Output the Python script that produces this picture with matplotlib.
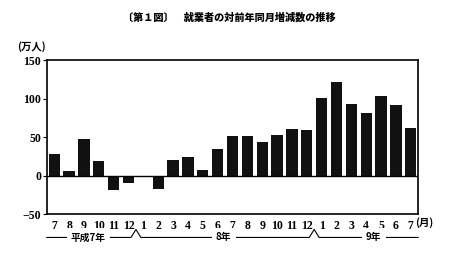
import matplotlib.pyplot as plt
import matplotlib.transforms as mtransforms
import numpy as np

plt.rcParams['font.family'] = ['Liberation Serif', 'Noto Sans CJK JP']

# 平成7年7月 ～ 平成9年7月
months = ['7', '8', '9', '10', '11', '12', '1', '2', '3', '4', '5', '6',
          '7', '8', '9', '10', '11', '12', '1', '2', '3', '4', '5', '6', '7']
values = [28, 6, 48, 19, -19, -10, -2, -17, 20, 24, 7, 34,
          51, 51, 43, 53, 60, 59, 101, 121, 93, 81, 103, 91, 62]
years = ['平成7年', '8年', '9年']
year_pos = [2.3, 11.4, 21.5]
breaks = [5.5, 17.5]

fig = plt.figure(figsize=(4.59, 2.73), dpi=100)
ax = fig.add_axes([0.102, 0.216, 0.809, 0.564])

x = np.arange(len(values))
ax.bar(x, values, width=0.76, color='#111111')
ax.axhline(0, color='black', lw=1.0)

ax.set_xlim(-0.5, len(values) - 0.5)
ax.set_ylim(-50, 150)
ax.set_yticks([-50, 0, 50, 100, 150])
ax.set_yticklabels(['−50', '0', '50', '100', '150'])
ax.set_xticks(x)
ax.set_xticklabels(months)
ax.tick_params(axis='x', length=0, pad=4, labelsize=8.5)
ax.tick_params(axis='y', length=3, width=0.8, pad=1, labelsize=8.5)
for lab in ax.get_xticklabels() + ax.get_yticklabels():
    lab.set_fontweight('bold')
for s in ax.spines.values():
    s.set_linewidth(1.2)

fig.text(0.5, 0.935, '〔第１図〕　就業者の対前年同月増減数の推移', ha='center', va='center',
         fontsize=7.3, fontweight='heavy', family=['Noto Sans CJK JP'])
fig.text(0.068, 0.828, '(万人)', ha='center', va='center', fontsize=7.5,
         fontweight='bold', family=['Noto Sans CJK JP'])
tr = mtransforms.blended_transform_factory(ax.transData, ax.transAxes)
ax.text(24.3, -0.055, '(月)', transform=tr,
        ha='left', va='center', fontsize=7.5, fontweight='bold', family=['Noto Sans CJK JP'])

# 年の区切り線
ly = -0.152
cy = -0.1
pts_x = [-0.5]
pts_y = [ly]
for b in breaks:
    pts_x += [b - 0.33, b, b + 0.33]
    pts_y += [ly, cy, ly]
pts_x.append(len(values) - 0.5)
pts_y.append(ly)
ax.plot(pts_x, pts_y, color='black', lw=0.8, transform=tr, clip_on=False)
for t, p in zip(years, year_pos):
    ax.text(p, ly, t, transform=tr, ha='center', va='center', fontsize=7,
            fontweight='bold', family=['Noto Sans CJK JP'],
            bbox=dict(facecolor='white', edgecolor='none', pad=3))

fig.savefig('out.png', dpi=100)
